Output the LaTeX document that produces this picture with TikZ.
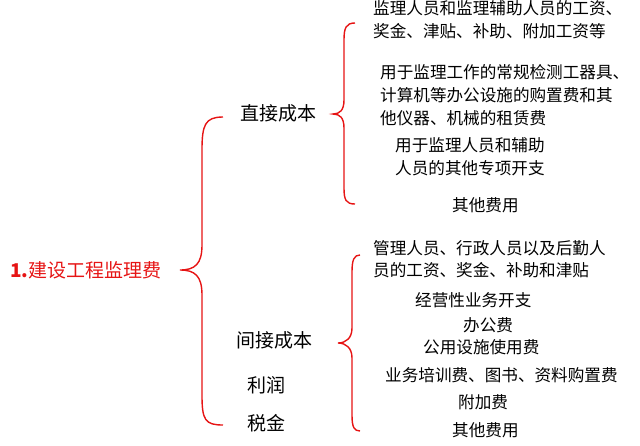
\documentclass[tikz,border=0pt]{standalone}
\usepackage{fontspec}
\setmainfont{Noto Sans CJK SC}
\definecolor{bred}{RGB}{230,20,20}
\begin{document}
\begin{tikzpicture}[x=1pt,y=-1pt,
  t/.style={anchor=west,inner sep=0pt,font=\fontsize{16.6}{18}\selectfont},
  m/.style={anchor=west,inner sep=0pt,font=\fontsize{19}{21}\selectfont},
  br/.style={draw=bred,line width=1.4pt}]
\useasboundingbox (0,0) rectangle (640,445);
\node[anchor=west,inner sep=0pt,text=bred,font=\fontsize{19}{21}\selectfont] (title) at (10,270) {\textbf{1.}建设工程监理费};
% big brace
\coordinate (b0) at (180,270);
\draw[br] (223,117) .. controls (205,117) and (202,125) .. (202,150) -- (202,245) .. controls (202,264) and (195,270) .. (b0)
  .. controls (195,270) and (202,276) .. (202,295) -- (202,395) .. controls (202,420) and (205,425) .. (223,425);
% upper brace
\coordinate (u0) at (333,114);
\draw[br] (355,23) .. controls (346,23) and (344,28) .. (344,40) -- (344,100) .. controls (344,110) and (340,114) .. (u0)
  .. controls (340,114) and (344,118) .. (344,128) -- (344,188) .. controls (344,200) and (346,204) .. (355,204);
% lower brace
\coordinate (l0) at (338,343);
\draw[br] (360,255) .. controls (354,255) and (352,260) .. (352,272) -- (352,328) .. controls (352,338) and (346,343) .. (l0)
  .. controls (346,343) and (352,348) .. (352,358) -- (352,415) .. controls (352,427) and (354,431) .. (360,431);
\node[m] (zj) at (240,113) {直接成本};
\node[m] (jj) at (236,340) {间接成本};
\node[m] (lr) at (247,385) {利润};
\node[m] (sj) at (247,423) {税金};
\node[t] (a1) at (373,8) {监理人员和监理辅助人员的工资、};
\node[t] (a2) at (373,31) {奖金、津贴、补助、附加工资等};
\node[t] (a3) at (380,72) {用于监理工作的常规检测工器具、};
\node[t] (a4) at (380,95) {计算机等办公设施的购置费和其};
\node[t] (a5) at (380,118) {他仪器、机械的租赁费};
\node[t] (a6) at (395,145) {用于监理人员和辅助};
\node[t] (a7) at (395,168) {人员的其他专项开支};
\node[t] (a8) at (452,205) {其他费用};
\node[t] (c1) at (373,248) {管理人员、行政人员以及后勤人};
\node[t] (c2) at (373,270) {员的工资、奖金、补助和津贴};
\node[t] (c3) at (415,300) {经营性业务开支};
\node[t] (c4) at (463,325) {办公费};
\node[t] (c5) at (423,347) {公用设施使用费};
\node[t] (c6) at (385,375) {业务培训费、图书、资料购置费};
\node[t] (c7) at (458,402) {附加费};
\node[t] (c8) at (452,430) {其他费用};
\end{tikzpicture}
\end{document}
